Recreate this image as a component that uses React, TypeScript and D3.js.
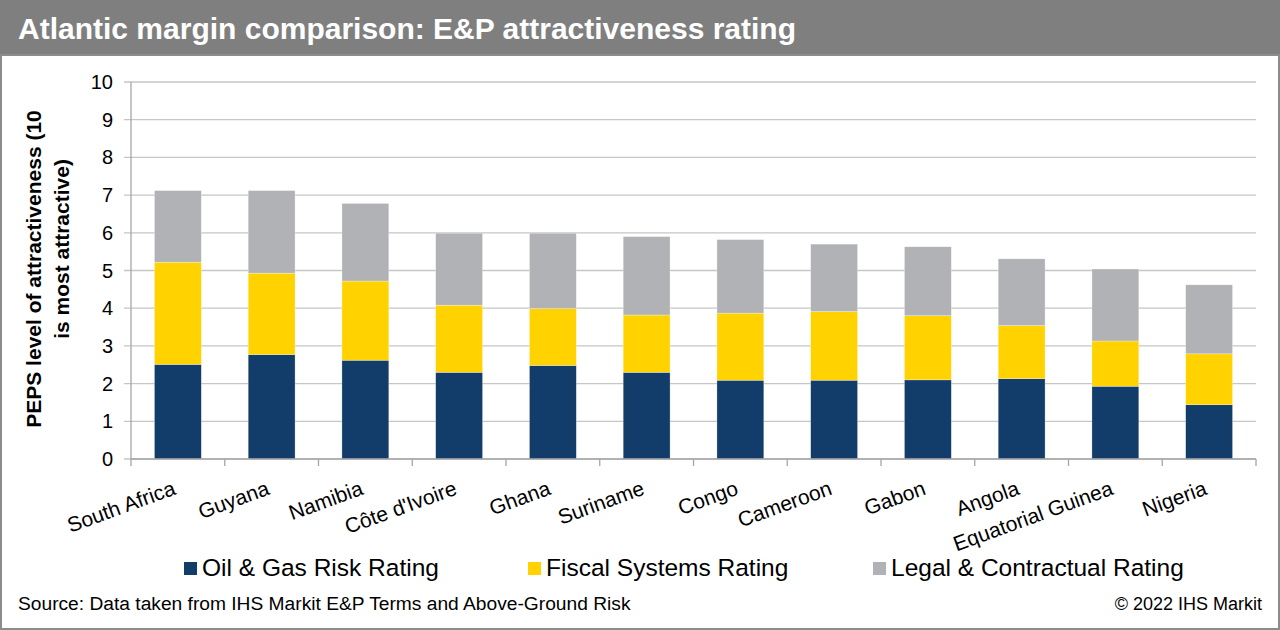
import React from "react";
import * as d3 from "d3";

const countries = ["South Africa", "Guyana", "Namibia", "Côte d'Ivoire", "Ghana", "Suriname", "Congo", "Cameroon", "Gabon", "Angola", "Equatorial Guinea", "Nigeria"];
const oilGasRisk = [2.51, 2.77, 2.62, 2.30, 2.48, 2.30, 2.09, 2.09, 2.10, 2.13, 1.93, 1.44];
const fiscalSystems = [2.71, 2.16, 2.10, 1.78, 1.51, 1.52, 1.78, 1.82, 1.70, 1.41, 1.20, 1.35];
const legalContractual = [1.90, 2.19, 2.06, 1.91, 2.00, 2.08, 1.95, 1.79, 1.83, 1.77, 1.91, 1.83];
const seriesNames = ["Oil & Gas Risk Rating", "Fiscal Systems Rating", "Legal & Contractual Rating"];
const seriesColors = ["#123c69", "#ffd200", "#b1b2b6"];
const yTicks = [0, 1, 2, 3, 4, 5, 6, 7, 8, 9, 10];

const W = 1280;
const H = 630;
const FONT = "'Liberation Sans', Arial, Helvetica, sans-serif";

export default function App() {
  const left = 131, right = 1256, top = 82, bottom = 459;
  const x = d3.scaleBand<string>().domain(countries).range([left, right]).paddingInner(0.5).paddingOuter(0.25);
  const xb = d3.scaleBand<string>().domain(countries).range([left, right]);
  const y = d3.scaleLinear().domain([0, 10]).range([bottom, top]);

  const rows = countries.map((c, i) => ({ c, s0: oilGasRisk[i], s1: fiscalSystems[i], s2: legalContractual[i] }));
  const stack = d3.stack<any>().keys(["s0", "s1", "s2"])(rows);

  const legendX = [184, 528, 873];

  return (
    <svg width={W} height={H} style={{ position: "absolute", left: 0, top: 0, background: "#fff" }} fontFamily={FONT}>
      <rect x={0} y={0} width={W} height={H} fill="#fff" />
      <rect x={0} y={0} width={W} height={55} fill="#7f7f7f" />
      <text x={18} y={39} fill="#fff" fontSize={30} fontWeight="bold">Atlantic margin comparison: E&amp;P attractiveness rating</text>
      <rect x={1} y={55} width={W - 2} height={H - 56} fill="none" stroke="#8c8c8c" strokeWidth={2} />

      {/* gridlines */}
      {yTicks.map((t) => (
        <line key={"g" + t} x1={left - 7} x2={right} y1={y(t)} y2={y(t)} stroke="#c6c6c6" strokeWidth={1.3} />
      ))}
      {/* y axis */}
      <line x1={left} x2={left} y1={top} y2={bottom} stroke="#a6a6a6" strokeWidth={1.3} />
      {yTicks.map((t) => (
        <text key={"yl" + t} x={113} y={y(t)} dy="0.35em" textAnchor="end" fontSize={20} fill="#000">{t}</text>
      ))}
      <g transform="translate(41,269) rotate(-90)">
        <text textAnchor="middle" fontSize={21} fontWeight="bold" fill="#000">PEPS level of attractiveness (10</text>
      </g>
      <g transform="translate(69,249) rotate(-90)">
        <text textAnchor="middle" fontSize={21} fontWeight="bold" fill="#000">is most attractive)</text>
      </g>

      {/* bars */}
      {stack.map((layer, si) => (
        <g key={"s" + si} fill={seriesColors[si]}>
          {layer.map((d, i) => (
            <rect key={i} x={x(countries[i])} width={x.bandwidth()} y={y(d[1])} height={y(d[0]) - y(d[1])} stroke="#ffffff" strokeOpacity={0.5} strokeWidth={0.6} />
          ))}
        </g>
      ))}

      {/* x axis */}
      <line x1={left} x2={right} y1={bottom} y2={bottom} stroke="#a6a6a6" strokeWidth={1.3} />
      {countries.concat(["__end"]).map((c, i) => {
        const xx = i < countries.length ? (xb(c) as number) : right;
        return <line key={"xt" + i} x1={xx} x2={xx} y1={bottom} y2={bottom + 7} stroke="#a6a6a6" strokeWidth={1.3} />;
      })}
      {countries.map((c) => {
        const cx = (xb(c) as number) + xb.bandwidth() / 2;
        return (
          <g key={"xl" + c} transform={`translate(${cx - 1},${bottom + 35}) rotate(-20)`}>
            <text textAnchor="end" fontSize={21} fill="#000">{c}</text>
          </g>
        );
      })}

      {/* legend */}
      {seriesNames.map((n, i) => (
        <g key={"lg" + i}>
          <rect x={legendX[i]} y={562} width={13} height={13} fill={seriesColors[i]} />
          <text x={legendX[i] + 18} y={576} fontSize={24.5} fill="#000">{n}</text>
        </g>
      ))}

      <text x={18} y={610} fontSize={19.2} fill="#000">Source: Data taken from IHS Markit E&amp;P Terms and Above-Ground Risk</text>
      <text x={1262} y={610} textAnchor="end" fontSize={18} fill="#000">© 2022 IHS Markit</text>
    </svg>
  );
}
